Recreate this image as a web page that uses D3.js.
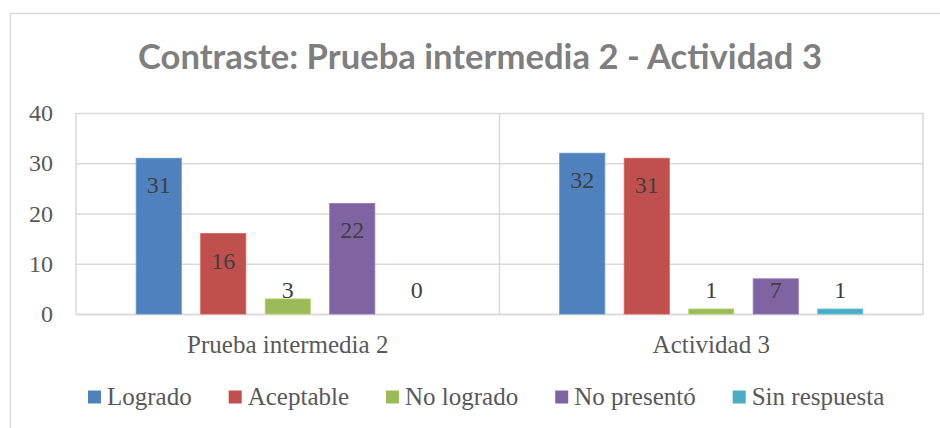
<!DOCTYPE html>
<html><head><meta charset="utf-8">
<script src="https://cdn.jsdelivr.net/npm/d3@7"></script>
<style>
html,body{margin:0;padding:0;background:#fff;overflow:hidden}
svg{display:block}
</style></head>
<body>
<svg id="chart" width="940" height="428"></svg>
<script>
const title = "Contraste: Prueba intermedia 2 - Actividad 3";
const categories = ["Prueba intermedia 2", "Actividad 3"];
const seriesNames = ["Logrado", "Aceptable", "No logrado", "No presentó", "Sin respuesta"];
const seriesColors = ["#4F81BD", "#C0504D", "#9BBB59", "#8064A2", "#4BACC6"];
const logrado = [31, 32];
const aceptable = [16, 31];
const noLogrado = [3, 1];
const noPresento = [22, 7];
const sinRespuesta = [0, 1];
const yTicks = [0, 10, 20, 30, 40];

const seriesValues = [logrado, aceptable, noLogrado, noPresento, sinRespuesta];

const svg = d3.select("#chart");
const W = 940, H = 428;
const m = {left: 76, right: 17, top: 113, bottom: 114};
const plotW = W - m.left - m.right, plotH = H - m.top - m.bottom;
const serif = "'Liberation Serif', 'DejaVu Serif', serif";

// outer chart border
svg.append("rect").attr("x", 10.5).attr("y", 13.5).attr("width", 1000).attr("height", 1000)
  .attr("fill", "none").attr("stroke", "#d9d9d9").attr("stroke-width", 1.3);

// title
svg.append("text").attr("x", 480).attr("y", 69).attr("text-anchor", "middle")
  .attr("font-family", "Lato, 'Open Sans', sans-serif").attr("font-weight", "bold")
  .attr("font-size", 35).attr("fill", "#7f7f7f")
  .attr("textLength", 684).attr("lengthAdjust", "spacingAndGlyphs").text(title);

const g = svg.append("g").attr("transform", `translate(${m.left},${m.top})`);

const x0 = d3.scaleBand().domain(categories).range([0, plotW]).paddingInner(0).paddingOuter(0);
const x1 = d3.scaleBand().domain(seriesNames).range([0, x0.bandwidth()]).paddingInner(0.3).paddingOuter(0.933);
const y = d3.scaleLinear().domain([0, 40]).range([plotH, 0]);

// horizontal gridlines
const yAxis = d3.axisLeft(y).tickValues(yTicks).tickSize(-plotW).tickPadding(23).tickFormat(d3.format("d"));
const ya = g.append("g").call(yAxis);
ya.select(".domain").remove();
ya.selectAll(".tick line").attr("stroke", "#d9d9d9").attr("stroke-width", 1.5);
ya.selectAll(".tick text").attr("font-family", serif).attr("font-size", 24).attr("fill", "#595959");

// vertical category separators
const edges = categories.map(c => x0(c)).concat([plotW]);
g.selectAll("line.sep").data(edges).enter().append("line").attr("class", "sep")
  .attr("x1", d => d).attr("x2", d => d).attr("y1", 0).attr("y2", plotH)
  .attr("stroke", "#d9d9d9").attr("stroke-width", 1.5);

// x axis labels
const xAxis = d3.axisBottom(x0).tickSize(0).tickPadding(21);
const xa = g.append("g").attr("transform", `translate(0,${plotH})`).call(xAxis);
xa.select(".domain").attr("stroke", "#d9d9d9").attr("stroke-width", 1.5);
xa.selectAll(".tick text").attr("font-family", serif).attr("font-size", 25).attr("fill", "#595959");

// bars
const data = [];
categories.forEach((c, ci) => seriesNames.forEach((s, si) => data.push({c, s, v: seriesValues[si][ci], color: seriesColors[si]})));

g.selectAll("rect.bar").data(data).enter().append("rect").attr("class", "bar")
  .attr("x", d => x0(d.c) + x1(d.s)).attr("width", x1.bandwidth())
  .attr("y", d => y(d.v)).attr("height", d => plotH - y(d.v))
  .attr("fill", d => d.color)
  .attr("stroke", d => d3.color(d.color).brighter(0.4)).attr("stroke-width", d => d.v > 0 ? 0.8 : 0);

// data labels
g.selectAll("text.lbl").data(data).enter().append("text").attr("class", "lbl")
  .attr("x", d => x0(d.c) + x1(d.s) + x1.bandwidth() / 2)
  .attr("y", d => Math.min(y(d.v) + 35, plotH - 15.7))
  .attr("text-anchor", "middle").attr("font-family", serif).attr("font-size", 24)
  .attr("fill", "#404040").text(d => d.v);

// legend
const leg = svg.append("g").attr("transform", "translate(88,390.5)");
let lx = 0;
seriesNames.forEach((s, i) => {
  const it = leg.append("g").attr("transform", `translate(${lx},0)`);
  it.append("rect").attr("width", 13).attr("height", 13).attr("fill", seriesColors[i]);
  const tx = it.append("text").attr("x", 19).attr("y", 14.5).attr("font-family", serif)
    .attr("font-size", 25).attr("fill", "#595959").text(s);
  lx += 19 + tx.node().getComputedTextLength() + 37;
});
</script>
</body></html>
